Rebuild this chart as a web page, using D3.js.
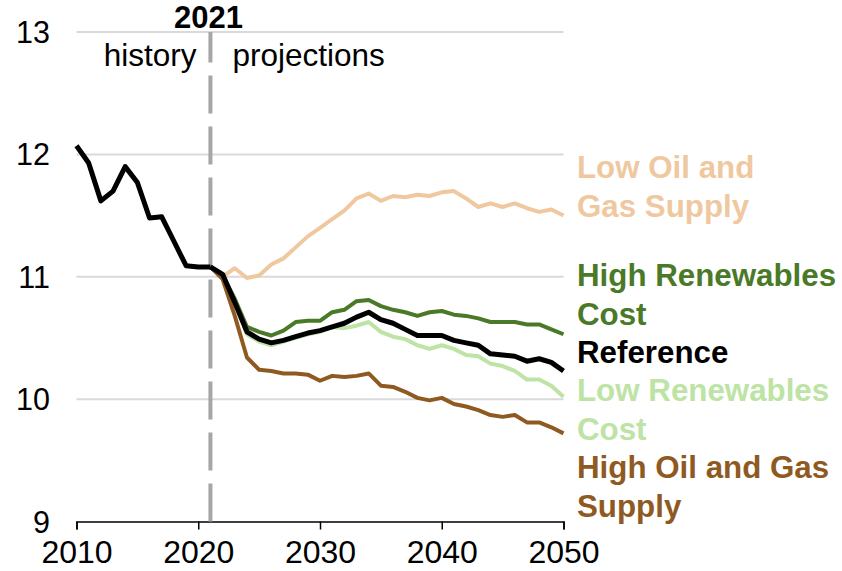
<!DOCTYPE html>
<html>
<head>
<meta charset="utf-8">
<script src="https://cdn.jsdelivr.net/npm/d3@7"></script>
<style>
  body { margin: 0; background: #fff; }
  text { font-family: Arial, "Liberation Sans", sans-serif; }
  .grid line { stroke: #d9d9d9; stroke-width: 2; }
</style>
</head>
<body>
<script>
const width = 842;
const height = 571;

// years
const histYears = d3.range(2010, 2022);
const projYears = d3.range(2021, 2051);

// history 2010-2021
const history = [12.07, 11.93, 11.62, 11.70, 11.90, 11.77, 11.48, 11.49, 11.29, 11.09, 11.08, 11.08];

// projections 2021-2050
const lowOilGas = [11.08, 11.00, 11.07, 10.99, 11.01, 11.10, 11.15, 11.24, 11.33, 11.40, 11.47, 11.54, 11.64, 11.68, 11.62,
  11.66, 11.65, 11.67, 11.66, 11.69, 11.70, 11.64, 11.57, 11.60, 11.57, 11.60, 11.56, 11.53, 11.55, 11.50];
const highRenew = [11.08, 11.01, 10.82, 10.59, 10.55, 10.52, 10.56, 10.63, 10.64, 10.64, 10.71, 10.73, 10.80, 10.81, 10.76,
  10.73, 10.71, 10.68, 10.71, 10.72, 10.69, 10.68, 10.66, 10.63, 10.63, 10.63, 10.61, 10.61, 10.57, 10.53];
const reference = [11.08, 11.02, 10.79, 10.55, 10.49, 10.46, 10.48, 10.51, 10.54, 10.56, 10.59, 10.62, 10.67, 10.71, 10.65,
  10.62, 10.57, 10.52, 10.52, 10.52, 10.48, 10.46, 10.44, 10.37, 10.36, 10.35, 10.31, 10.33, 10.30, 10.23];
const lowRenew = [11.08, 11.01, 10.80, 10.53, 10.47, 10.44, 10.47, 10.50, 10.53, 10.55, 10.59, 10.58, 10.60, 10.63, 10.55,
  10.51, 10.49, 10.44, 10.41, 10.44, 10.41, 10.36, 10.35, 10.29, 10.27, 10.23, 10.16, 10.16, 10.11, 10.02];
const highOilGas = [11.08, 10.98, 10.68, 10.34, 10.24, 10.23, 10.21, 10.21, 10.20, 10.15, 10.19, 10.18, 10.19, 10.21, 10.11,
  10.10, 10.06, 10.01, 9.99, 10.01, 9.96, 9.94, 9.91, 9.87, 9.855, 9.87, 9.81, 9.81, 9.77, 9.72];

const yTicks = [9, 10, 11, 12, 13];
const xTicks = [2010, 2020, 2030, 2040, 2050];

var x = d3.scaleLinear().domain([2010, 2050]).range([76.5, 563.5]);
var y = d3.scaleLinear().domain([9, 13]).range([521.5, 32]);

var svg = d3.select("body").append("svg")
    .attr("width", width)
    .attr("height", height);

// gridlines
svg.append("g")
    .attr("class", "grid")
  .selectAll("line")
    .data(yTicks.filter(d => d > 9))
  .enter().append("line")
    .attr("x1", x(2010))
    .attr("x2", x(2050))
    .attr("y1", d => y(d))
    .attr("y2", d => y(d));

// y labels
svg.append("g")
  .selectAll("text")
    .data(yTicks)
  .enter().append("text")
    .attr("x", 50)
    .attr("y", d => y(d) + 11)
    .attr("text-anchor", "end")
    .attr("font-size", 30.5)
    .text(d => d);

// x axis
var xaxis = d3.axisBottom(x)
    .tickValues(xTicks)
    .tickFormat(d3.format("d"))
    .tickSize(8);

var gx = svg.append("g")
    .attr("transform", `translate(0,${y(9)})`)
    .call(xaxis);
gx.select(".domain").attr("stroke", "#000").attr("stroke-width", 1.5);
gx.selectAll(".tick line").attr("stroke", "#000").attr("stroke-width", 1.5);
gx.selectAll(".tick text")
    .attr("y", 41.5)
    .attr("dy", 0)
    .attr("font-family", "Arial, 'Liberation Sans', sans-serif")
    .attr("font-size", 32)
    .attr("fill", "#000");

// 2021 divider
svg.append("line")
    .attr("x1", x(2021)).attr("x2", x(2021))
    .attr("y1", y(9)).attr("y2", y(13))
    .attr("stroke", "#a6a6a6")
    .attr("stroke-width", 4)
    .attr("stroke-dasharray", "38,13");

svg.append("text")
    .attr("x", x(2021) - 2)
    .attr("y", 28)
    .attr("text-anchor", "middle")
    .attr("font-size", 31)
    .attr("font-weight", "bold")
    .text("2021");

svg.append("text")
    .attr("x", x(2021) - 14)
    .attr("y", 66)
    .attr("text-anchor", "end")
    .attr("font-size", 31.5)
    .text("history");

svg.append("text")
    .attr("x", x(2021) + 22)
    .attr("y", 66)
    .attr("font-size", 31.5)
    .text("projections");

// lines
var line = d3.line()
    .x(d => x(d[0]))
    .y(d => y(d[1]));

const series = [
  { name: ["Low Oil and", "Gas Supply"], values: lowOilGas, color: "#f0c8a0", width: 4, labelY: 178 },
  { name: ["Low Renewables", "Cost"], values: lowRenew, color: "#bde3a5", width: 4, labelY: 401 },
  { name: ["High Renewables", "Cost"], values: highRenew, color: "#4a7a28", width: 4, labelY: 286 },
  { name: ["High Oil and Gas", "Supply"], values: highOilGas, color: "#8f5a22", width: 4, labelY: 478 },
  { name: ["Reference"], values: reference, color: "#000", width: 5, labelY: 363 }
];

series.forEach(function(s) {
  svg.append("path")
      .datum(projYears.map((yr, i) => [yr, s.values[i]]))
      .attr("fill", "none")
      .attr("stroke", s.color)
      .attr("stroke-width", s.width)
      .attr("stroke-linejoin", "round")
      .attr("d", line);

  var t = svg.append("text")
      .attr("x", 577)
      .attr("y", s.labelY)
      .attr("font-size", 31.3)
      .attr("font-weight", "bold")
      .attr("fill", s.color);
  s.name.forEach((ln, i) => {
    t.append("tspan").attr("x", 577).attr("dy", i === 0 ? 0 : 39).text(ln);
  });
});

svg.append("path")
    .datum(histYears.map((yr, i) => [yr, history[i]]))
    .attr("fill", "none")
    .attr("stroke", "#000")
    .attr("stroke-width", 5)
    .attr("stroke-linejoin", "round")
    .attr("d", line);
</script>
</body>
</html>
